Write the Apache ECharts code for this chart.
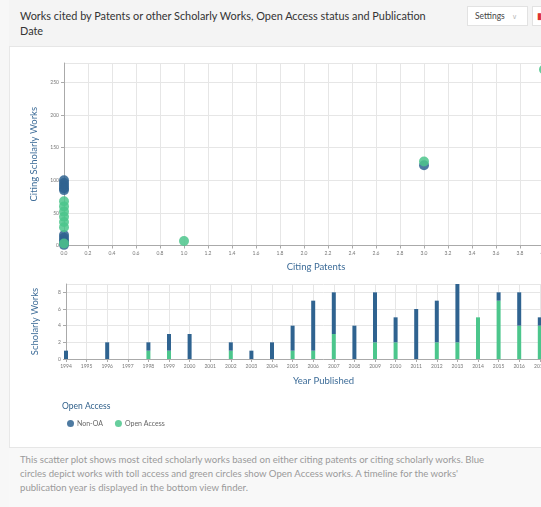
<!DOCTYPE html>
<html><head><meta charset="utf-8">
<script src="https://cdn.jsdelivr.net/npm/echarts@6/dist/echarts.min.js"></script>
<style>
html,body{margin:0;padding:0;width:541px;height:507px;overflow:hidden;background:#f7f7f7;font-family:Lato,"Open Sans",sans-serif;}
#card{position:absolute;left:9px;top:0;width:600px;height:507px;background:#fff;border-left:1px solid #e8e8e8;}
#head{position:absolute;left:9px;top:0;width:600px;height:46px;background:#f4f4f4;border-bottom:1px solid #e6e6e6;}
#title{position:absolute;left:20px;top:8px;width:418px;font-size:10.9px;line-height:15px;color:#333;}
#settings{position:absolute;left:467px;top:6px;width:61px;height:20px;background:#fff;border:1px solid #e2e2e2;box-sizing:border-box;font-size:8.5px;color:#444;line-height:18px;padding-left:7px;}
#settings span{color:#bbb;margin-left:7px;font-size:7px;}
#redbtn{position:absolute;left:532px;top:6px;width:20px;height:20px;background:#fff;border:1px solid #e2e2e2;box-sizing:border-box;color:#d33;font-size:9px;line-height:18px;padding-left:4px;}
#chart{position:absolute;left:9px;top:47px;width:620px;height:400px;}
#foot{position:absolute;left:9px;top:447px;width:600px;height:60px;background:#f8f8f8;border-top:1px solid #e6e6e6;}
#desc{position:absolute;left:20px;top:453px;width:480px;font-size:9.6px;line-height:14px;color:#9a9a9a;}
</style></head>
<body>
<div id="card"></div>
<div id="head"></div>
<div id="title">Works cited by Patents or other Scholarly Works, Open Access status and Publication Date</div>
<div id="settings">Settings<span>&#8744;</span></div>
<div id="redbtn">&#9646;</div>
<div id="chart"></div>
<div id="foot"></div>
<div id="desc">This scatter plot shows most cited scholarly works based on either citing patents or citing scholarly works. Blue circles depict works with toll access and green circles show Open Access works. A timeline for the works' publication year is displayed in the bottom view finder.</div>
<script>
// Scatter data
const nonOAPatents = [0, 0, 0, 0, 0, 0, 0, 0, 0, 0, 3];
const nonOAWorks   = [100, 96, 92, 88, 85, 16, 12, 8, 4, 1, 123];
const oaPatents    = [0, 0, 0, 0, 0, 0, 0, 1, 3, 4];
const oaWorks      = [68, 60, 52, 44, 36, 28, 3, 7, 129, 270];
// Timeline data
const years = ['1994','1995','1996','1997','1998','1999','2000','2001','2002','2003','2004','2005','2006','2007','2008','2009','2010','2011','2012','2013','2014','2015','2016','2017','2018','2019'];
const oaCounts    = [0,0,0,0,1,1,0,0,1,0,0,1,1,3,0,2,2,0,2,2,5,7,4,4,null,null];
const nonOACounts = [1,0,2,0,1,2,3,0,1,1,2,3,6,5,4,6,3,6,5,7,0,1,4,1,null,null];

const BLUE = '#2f6390', GREEN = '#4cc68c';
const tickLbl = {fontSize: 5, color: '#777'};
const nameStyle = {fontSize: 9.5, color: '#3d6c98', fontFamily: 'Lato'};
const zip = (a, b) => a.map((v, i) => [v, b[i]]);

const chart = echarts.init(document.getElementById('chart'), null, {renderer: 'canvas'});
chart.setOption({
  animation: false,
  textStyle: {fontFamily: 'Lato'},
  grid: [
    {left: 55, top: 16, width: 504, height: 182.5},
    {left: 57, top: 237, width: 515, height: 75}
  ],
  xAxis: [
    {gridIndex: 0, type: 'value', min: 0, max: 4.2, interval: 0.2,
     name: 'Citing Patents', nameLocation: 'middle', nameGap: 16, nameTextStyle: nameStyle,
     axisLine: {lineStyle: {color: '#aaa'}}, axisTick: {show: true, length: 3, lineStyle: {color: '#aaa'}},
     axisLabel: Object.assign({margin: 5, formatter: v => v.toFixed(1), showMaxLabel: false}, tickLbl),
     splitLine: {show: true, lineStyle: {color: '#e6e6e6'}}},
    {gridIndex: 1, type: 'category', data: years, boundaryGap: false,
     name: 'Year Published', nameLocation: 'middle', nameGap: 17, nameTextStyle: nameStyle,
     axisLine: {lineStyle: {color: '#aaa'}}, axisTick: {show: true, length: 3, lineStyle: {color: '#aaa'}},
     axisLabel: Object.assign({margin: 5, interval: 0}, tickLbl),
     splitLine: {show: true, lineStyle: {color: '#e6e6e6'}}}
  ],
  yAxis: [
    {gridIndex: 0, type: 'value', min: 0, max: 280, interval: 50,
     name: 'Citing Scholarly Works', nameLocation: 'middle', nameGap: 24, nameTextStyle: nameStyle,
     axisLine: {show: true, lineStyle: {color: '#aaa'}}, axisTick: {show: true, length: 3, lineStyle: {color: '#aaa'}},
     axisLabel: Object.assign({margin: 5, showMaxLabel: false}, tickLbl),
     splitLine: {show: true, lineStyle: {color: '#e6e6e6'}}},
    {gridIndex: 1, type: 'value', min: 0, max: 9, interval: 2,
     name: 'Scholarly Works', nameLocation: 'middle', nameGap: 26, nameTextStyle: nameStyle,
     axisLine: {show: true, lineStyle: {color: '#aaa'}}, axisTick: {show: true, length: 3, lineStyle: {color: '#aaa'}},
     axisLabel: Object.assign({margin: 5, showMaxLabel: false}, tickLbl),
     splitLine: {show: true, lineStyle: {color: '#e6e6e6'}}}
  ],
  legend: {
    left: 53, top: 368, itemWidth: 7, itemHeight: 7, itemGap: 12, icon: 'circle',
    textStyle: {fontSize: 7, color: '#666', padding: [0, 0, 0, -2]},
    data: ['Non-OA', 'Open Access']
  },
  graphic: [{type: 'text', left: 53, top: 355, style: {text: 'Open Access', fontSize: 8.5, fill: '#2f5f8a', fontFamily: 'Lato'}}],
  series: [
    {name: 'Non-OA', type: 'scatter', xAxisIndex: 0, yAxisIndex: 0, symbolSize: 10,
     itemStyle: {color: BLUE, opacity: 0.85}, data: zip(nonOAPatents, nonOAWorks)},
    {name: 'Open Access', type: 'scatter', xAxisIndex: 0, yAxisIndex: 0, symbolSize: 10,
     itemStyle: {color: GREEN, opacity: 0.85}, data: zip(oaPatents, oaWorks)},
    {name: 'Open Access', type: 'bar', xAxisIndex: 1, yAxisIndex: 1, stack: 'y', barWidth: 4, clip: false,
     itemStyle: {color: GREEN}, data: oaCounts},
    {name: 'Non-OA', type: 'bar', xAxisIndex: 1, yAxisIndex: 1, stack: 'y', barWidth: 4, clip: false,
     itemStyle: {color: BLUE}, data: nonOACounts}
  ]
});
</script>
</body></html>
